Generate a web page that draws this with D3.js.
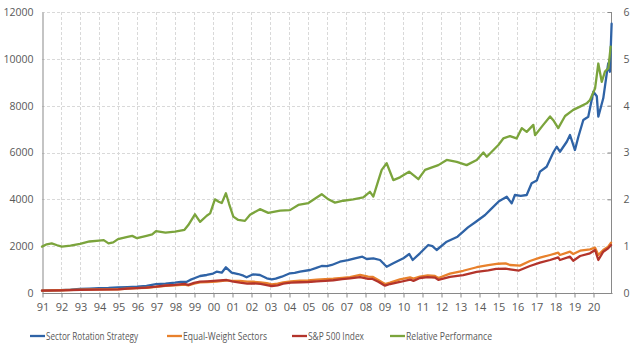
<!DOCTYPE html>
<html><head><meta charset="utf-8">
<script src="https://cdn.jsdelivr.net/npm/d3@7"></script>
<style>
html,body{margin:0;padding:0;background:#fff;}
svg{display:block;font-family:"Open Sans","Liberation Sans",sans-serif;}
</style></head>
<body>
<svg id="chart" width="640" height="355"></svg>
<script>
// ---- DATA ----
const yearTicks = d3.range(1991, 2021);
const yearLabels = ["91","92","93","94","95","96","97","98","99","00","01","02","03","04","05","06","07","08","09","10","11","12","13","14","15","16","17","18","19","20"];
const leftTicks = [0,2000,4000,6000,8000,10000,12000];
const rightTicks = [0,1,2,3,4,5,6];
const seriesNames = ["Sector Rotation Strategy","Equal-Weight Sectors","S&P 500 Index","Relative Performance"];

const srsDates = [1991.0,1991.5,1992.0,1992.5,1993.0,1993.5,1994.0,1994.5,1995.0,1995.5,1996.0,1996.5,1997.0,1997.5,1998.0,1998.3,1998.62,1998.8,1999.05,1999.32,1999.67,2000.0,2000.19,2000.46,2000.68,2000.98,2001.33,2001.6,2001.77,2002.12,2002.47,2002.83,2003.09,2003.3,2003.62,2004.05,2004.3,2004.58,2005.11,2005.4,2005.72,2006.0,2006.25,2006.68,2007.1,2007.47,2007.86,2008.09,2008.44,2008.79,2009.14,2009.49,2010.02,2010.33,2010.51,2010.89,2011.33,2011.55,2011.77,2012.3,2012.87,2013.42,2013.84,2014.32,2014.63,2015.05,2015.46,2015.72,2015.89,2016.2,2016.51,2016.77,2017.04,2017.21,2017.56,2017.91,2018.09,2018.26,2018.62,2018.79,2019.05,2019.23,2019.49,2019.75,2020.02,2020.2,2020.28,2020.54,2020.8,2020.89,2020.98];
const srsValues = [100,110,120,140,170,190,210,215,240,255,270,300,380,400,440,470,480,560,640,726,769,830,910,867,1097,867,811,740,670,798,769,628,585,610,696,841,860,910,982,1060,1153,1150,1196,1336,1400,1482,1550,1452,1482,1409,1123,1268,1482,1665,1409,1695,2050,2000,1836,2190,2404,2800,3045,3331,3580,3920,4112,3830,4185,4150,4185,4684,4800,5180,5393,6000,6247,6033,6460,6747,6106,6674,7387,7528,8596,8400,7528,8314,9808,9450,11500];

const ewsDates = [1991.0,1992.0,1993.0,1994.0,1995.0,1995.5,1996.0,1996.5,1997.0,1997.5,1998.0,1998.5,1998.7,1999.0,1999.32,1999.7,2000.19,2000.72,2001.0,2001.42,2001.8,2002.12,2002.5,2002.83,2003.09,2003.4,2003.7,2004.1,2004.58,2005.0,2005.46,2005.9,2006.33,2006.8,2007.21,2007.74,2008.17,2008.4,2008.7,2009.05,2009.32,2009.84,2010.37,2010.55,2010.89,2011.3,2011.68,2011.86,2012.47,2013.17,2013.88,2014.49,2015.02,2015.4,2015.63,2016.16,2016.68,2017.21,2017.74,2018.17,2018.26,2018.79,2018.96,2019.32,2019.84,2020.11,2020.28,2020.54,2020.8,2020.95];
const ewsValues = [100,118,140,155,160,185,205,225,260,300,330,360,320,400,450,470,490,540,520,512,490,480,450,420,371,400,450,500,525,540,570,590,611,650,680,769,700,690,555,384,440,585,670,620,700,750,726,640,830,950,1100,1190,1250,1268,1196,1170,1366,1507,1623,1721,1623,1764,1665,1806,1866,1934,1623,1836,1977,2148];

const spxDates = [1991.0,1992.0,1993.0,1994.0,1995.0,1995.5,1996.0,1996.5,1997.0,1997.5,1998.0,1998.5,1998.7,1999.0,1999.32,1999.7,2000.19,2000.72,2001.0,2001.42,2001.8,2002.12,2002.5,2002.83,2003.09,2003.4,2003.7,2004.1,2004.58,2005.0,2005.46,2005.9,2006.33,2006.8,2007.21,2007.74,2008.17,2008.4,2008.7,2009.05,2009.32,2009.84,2010.37,2010.55,2010.89,2011.3,2011.68,2011.86,2012.47,2013.17,2013.88,2014.49,2014.9,2015.4,2015.63,2016.1,2016.68,2017.21,2017.74,2018.17,2018.26,2018.79,2018.96,2019.32,2019.84,2020.11,2020.28,2020.54,2020.8,2020.95];
const spxValues = [100,115,130,145,155,185,205,230,270,320,350,390,350,430,483,500,525,555,500,440,400,414,390,340,299,330,400,440,460,470,500,520,545,590,628,680,600,600,483,312,384,470,575,520,640,680,660,560,690,760,900,970,1030,1040,1012,960,1153,1294,1409,1524,1409,1550,1379,1580,1695,1836,1409,1764,1909,2050];

const relDates = [1991.0,1991.25,1991.51,1991.8,1992.04,1992.5,1993.0,1993.5,1994.0,1994.25,1994.5,1994.75,1995.0,1995.5,1995.75,1996.0,1996.5,1996.8,1997.0,1997.5,1998.0,1998.5,1998.7,1999.05,1999.32,1999.67,1999.85,2000.1,2000.3,2000.46,2000.68,2000.85,2001.07,2001.33,2001.68,2001.95,2002.47,2002.91,2003.53,2004.05,2004.49,2005.02,2005.72,2006.07,2006.42,2006.86,2007.38,2007.91,2008.26,2008.44,2008.7,2008.88,2009.14,2009.49,2009.84,2010.32,2010.81,2011.16,2011.86,2012.3,2012.83,2013.35,2013.88,2014.23,2014.41,2015.02,2015.28,2015.63,2015.98,2016.25,2016.51,2016.86,2016.95,2017.38,2017.74,2017.91,2018.17,2018.53,2018.96,2019.32,2019.67,2019.84,2020.11,2020.28,2020.46,2020.63,2020.81,2020.93];
const relValues = [0.99,1.04,1.06,1.02,0.99,1.01,1.05,1.10,1.12,1.13,1.06,1.08,1.15,1.20,1.22,1.17,1.22,1.25,1.32,1.29,1.31,1.35,1.45,1.68,1.52,1.65,1.70,2.00,1.95,1.92,2.13,1.90,1.63,1.56,1.54,1.67,1.79,1.71,1.76,1.77,1.88,1.92,2.11,2.00,1.93,1.97,2.00,2.04,2.16,2.06,2.40,2.63,2.77,2.41,2.47,2.59,2.43,2.63,2.73,2.84,2.80,2.73,2.84,3.00,2.91,3.16,3.30,3.35,3.30,3.52,3.44,3.59,3.37,3.59,3.77,3.69,3.52,3.78,3.91,3.98,4.05,4.12,4.37,4.90,4.51,4.73,4.80,5.26];

// ---- CHART ----
const svg = d3.select("#chart");
const L = 42, R = 612, T = 12, B = 293;
const x = d3.scaleLinear().domain([1991, 2021]).range([L, R]);
const yL = d3.scaleLinear().domain([0, 12000]).range([B, T]);
const yR = d3.scaleLinear().domain([0, 6]).range([B, T]);
const textColor = "#595959";
const gridColor = "#d9d9d9";
const axisColor = "#898989";
const tickFont = "'Open Sans','Liberation Sans',sans-serif";

// gridlines
const grid = svg.append("g");
grid.selectAll("line.v").data(yearTicks.slice(1)).join("line")
  .attr("x1", d => x(d)+0.5).attr("x2", d => x(d)+0.5)
  .attr("y1", T).attr("y2", B)
  .attr("stroke", gridColor).attr("stroke-width", 1).attr("stroke-dasharray", "3,2");
grid.selectAll("line.h").data(leftTicks.slice(1)).join("line")
  .attr("x1", L).attr("x2", R)
  .attr("y1", d => Math.round(yL(d))+0.5).attr("y2", d => Math.round(yL(d))+0.5)
  .attr("stroke", gridColor).attr("stroke-width", 1).attr("stroke-dasharray", "3,2");

// axes
const xAxis = d3.axisBottom(x).tickValues(yearTicks).tickSize(4)
  .tickFormat((d, i) => yearLabels[i]);
const gx = svg.append("g").attr("transform", `translate(0.5,${B+0.5})`).call(xAxis);
gx.select(".domain").attr("stroke", axisColor).attr("d", `M${L},0H${R}`);
gx.selectAll(".tick line").attr("stroke", axisColor);
gx.selectAll(".tick text").attr("fill", textColor).attr("font-size", "11px").attr("dy", "0.95em")
  .attr("font-family", tickFont);

const yAxisL = d3.axisLeft(yL).tickValues(leftTicks).tickSize(0).tickPadding(9).tickFormat(d3.format("d"));
const gl = svg.append("g").attr("transform", `translate(${L+0.5},0)`).call(yAxisL);
gl.select(".domain").attr("stroke", axisColor);
gl.selectAll(".tick text").attr("fill", textColor).attr("font-size", "10.5px")
  .attr("font-family", tickFont);

const yAxisR = d3.axisRight(yR).tickValues(rightTicks).tickSize(-4).tickPadding(12).tickFormat(d3.format("d"));
const gr = svg.append("g").attr("transform", `translate(${R-0.5},0)`).call(yAxisR);
gr.select(".domain").attr("stroke", axisColor).attr("d", `M0,${T}V${B}`);
gr.selectAll(".tick line").attr("stroke", axisColor);
gr.selectAll(".tick text").attr("fill", textColor).attr("font-size", "10.5px")
  .attr("font-family", tickFont);

// lines
const colors = ["#2f63a6", "#e8812c", "#b3342b", "#7ba43c"];
const lineL = d3.line().x(d => x(d[0])).y(d => yL(d[1]));
const lineR = d3.line().x(d => x(d[0])).y(d => yR(d[1]));
const zip = (a, b) => a.map((d, i) => [d, b[i]]);
const plot = svg.append("g");
[[srsDates, srsValues, lineL], [ewsDates, ewsValues, lineL], [spxDates, spxValues, lineL], [relDates, relValues, lineR]]
  .forEach(([ds, vs, gen], i) => {
    plot.append("path").datum(zip(ds, vs))
      .attr("fill", "none").attr("stroke", colors[i]).attr("stroke-width", 2.3)
      .attr("stroke-linejoin", "round").attr("stroke-linecap", "round")
      .attr("d", gen);
  });

// legend
const legendX = [30, 167, 292, 390];
const legendW = [92, 84, 56, 86];
const lg = svg.append("g");
seriesNames.forEach((name, i) => {
  lg.append("line").attr("x1", legendX[i]).attr("x2", legendX[i] + 15)
    .attr("y1", 336).attr("y2", 336).attr("stroke", colors[i]).attr("stroke-width", 2.3);
  lg.append("text").attr("x", legendX[i] + 16).attr("y", 340)
    .attr("fill", textColor).attr("font-size", "11.5px")
    .attr("font-family", "'Liberation Sans Narrow','Open Sans','Liberation Sans',sans-serif")
    .attr("textLength", legendW[i]).attr("lengthAdjust", "spacingAndGlyphs")
    .text(name);
});
</script>
</body></html>
